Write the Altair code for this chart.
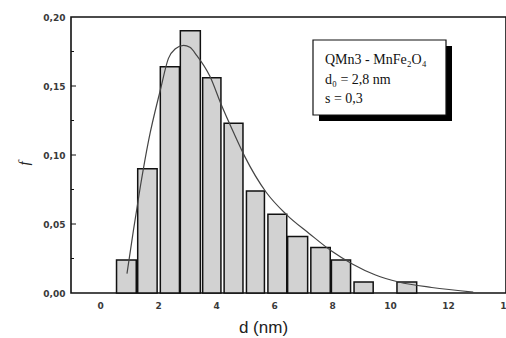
import altair as alt
import pandas as pd

# Histogram bins (d in nm) and relative frequency f
bin_start = [0.57, 1.30, 2.08, 2.77, 3.54, 4.28, 5.05, 5.79, 6.47, 7.27, 7.98, 8.76, 10.24]
bin_end   = [1.25, 1.97, 2.74, 3.46, 4.17, 4.93, 5.67, 6.44, 7.16, 7.94, 8.64, 9.42, 10.92]
freq      = [0.024, 0.090, 0.164, 0.190, 0.156, 0.123, 0.074, 0.057, 0.041, 0.033, 0.024, 0.008, 0.008]

# Fitted log-normal curve
curve_d = [0.93, 1.15, 1.39, 1.68, 2.08, 2.36, 2.60, 2.88, 3.10, 3.34, 3.79, 4.19, 4.59,
           4.99, 5.73, 6.42, 7.22, 8.01, 8.70, 9.50, 10.30, 11.44, 12.87]
curve_f = [0.014, 0.045, 0.077, 0.111, 0.147, 0.170, 0.177, 0.1795, 0.178, 0.172, 0.157,
           0.136, 0.117, 0.099, 0.073, 0.057, 0.043, 0.030, 0.021, 0.013, 0.008, 0.004, 0.0007]

major_ticks = [0.05, 0.10, 0.15]
minor_ticks = [0.025, 0.075, 0.125, 0.175]

legend_lines = ["QMn3 - MnFe\u2082O\u2084", "d\u2080 = 2,8 nm", "s = 0,3"]

bars = pd.DataFrame({"start": bin_start, "end": bin_end, "f": freq})
curve = pd.DataFrame({"d": curve_d, "f": curve_f})

xscale = alt.Scale(domain=[-1, 14], nice=False)
yscale = alt.Scale(domain=[0, 0.2], nice=False)

label_font = "DejaVu Sans"

x_axis = alt.Axis(values=list(range(0, 15, 2)), grid=False, ticks=False, domain=False,
                  labelFont=label_font, labelFontSize=9, labelFontWeight="bold",
                  labelColor="#3a3a3a", labelPadding=8, labelFlush=False,
                  title="d (nm)", titleFont="Liberation Sans", titleFontSize=17,
                  titleFontWeight="normal", titleColor="#222222",
                  titleX=192, titleY=39, titleBaseline="alphabetic", titleAnchor="start",
                  titleAlign="center")
y_axis = alt.Axis(values=[0, 0.05, 0.10, 0.15, 0.20], grid=False, ticks=False, domain=False,
                  labelExpr="replace(format(datum.value, '.2f'), '.', ',')",
                  labelFont=label_font, labelFontSize=9, labelFontWeight="bold",
                  labelColor="#3a3a3a", labelPadding=6, labelFlush=False,
                  title="f", titleFont="Liberation Serif", titleFontSize=15,
                  titleFontStyle="italic", titleFontWeight="normal", titleColor="#222222",
                  titleX=-48, titleY=146, titleAngle=270, titleBaseline="middle",
                  titleAlign="center")

hist = alt.Chart(bars).mark_rect(fill="#d2d2d2", stroke="#111111", strokeWidth=1.5).encode(
    x=alt.X("start:Q", scale=xscale, axis=x_axis),
    x2="end:Q",
    y=alt.Y("f:Q", scale=yscale, axis=y_axis),
    y2=alt.datum(0),
)

line = alt.Chart(curve).mark_line(color="#444444", strokeWidth=1.2, interpolate="monotone").encode(
    x=alt.X("d:Q", scale=xscale),
    y=alt.Y("f:Q", scale=yscale),
)

tick_major = alt.Chart(pd.DataFrame({"t": major_ticks})).mark_rule(color="#111111", strokeWidth=1).encode(
    y=alt.Y("t:Q", scale=yscale), x=alt.value(0), x2=alt.value(5))
tick_minor = alt.Chart(pd.DataFrame({"t": minor_ticks})).mark_rule(color="#111111", strokeWidth=1).encode(
    y=alt.Y("t:Q", scale=yscale), x=alt.value(0), x2=alt.value(3))

one = alt.Data(values=[{"a": 1}])
shadow = alt.Chart(one).mark_rect(fill="#000000").encode(
    x=alt.value(248), x2=alt.value(381), y=alt.value(29), y2=alt.value(104))
box = alt.Chart(one).mark_rect(fill="white", stroke="#111111", strokeWidth=1.2).encode(
    x=alt.value(242), x2=alt.value(375), y=alt.value(23), y2=alt.value(98))

legend_df = pd.DataFrame({"txt": legend_lines, "row": [0, 1, 2]})
legend_text = alt.Chart(legend_df).transform_calculate(
    yy="47 + datum.row * 19.5"
).mark_text(align="left", baseline="alphabetic", font="Liberation Serif", fontSize=14,
            color="#111111").encode(
    x=alt.value(254), y=alt.Y("yy:Q", scale=None), text="txt:N")

chart = alt.layer(hist, line, tick_major, tick_minor, shadow, box, legend_text).properties(
    width=435, height=276,
    autosize=alt.AutoSizeParams(type="none"),
    padding={"left": 71, "top": 17, "right": 0, "bottom": 45},
    background="white",
).configure_view(stroke="#111111", strokeWidth=1.6)

chart.save("out.html", embed_options={"renderer": "svg", "actions": False})
